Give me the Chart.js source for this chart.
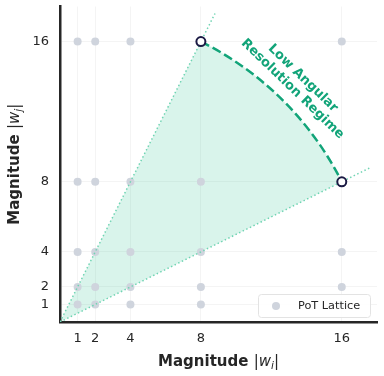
<!DOCTYPE html>
<html>
<head>
<meta charset="utf-8">
<script src="https://cdn.jsdelivr.net/npm/chart.js@4/dist/chart.umd.min.js"></script>
<style>
  html, body { margin: 0; padding: 0; background: #fff; }
  #wrap { width: 384px; height: 376px; }
</style>
</head>
<body>
<div id="wrap"><canvas id="lattice" width="384" height="376"></canvas></div>
<script>
// power-of-two magnitudes used on both axes
const potTicks = [1, 2, 4, 8, 16];
// highlighted lattice points (the regime boundary)
const cornerX = [8, 16];
const cornerY = [16, 8];
// dotted rays from origin, end points
const rayEndX = [8.8, 17.6];
const rayEndY = [17.6, 8.8];
const axisMax = 18;

const green = '#12a479';
const rayColor = '#70d4b3';
const fillColor = 'rgba(16,185,129,0.16)';
const dotColor = '#cfd4dd';
const FONT = 'DejaVu Sans';

Chart.defaults.font.family = FONT;

// lattice = all combos of the PoT magnitudes
const lattice = [];
potTicks.forEach(y => potTicks.forEach(x => lattice.push({ x, y })));

const corners = cornerX.map((x, i) => ({ x, y: cornerY[i] }));

// arc through the two corners, centred on the origin (elliptical in pixels since sx != sy)
function arcPath(chart, ctx) {
  const sx = chart.scales.x, sy = chart.scales.y;
  const ox = sx.getPixelForValue(0), oy = sy.getPixelForValue(0);
  const kx = sx.getPixelForValue(1) - ox, ky = oy - sy.getPixelForValue(1);
  const r = Math.hypot(cornerX[0], cornerY[0]);
  const t1 = Math.atan2(-cornerY[0], cornerX[0]);
  const t2 = Math.atan2(-cornerY[1], cornerX[1]);
  ctx.ellipse(ox, oy, r * kx, r * ky, 0, t1, t2, false);
}

function drawMixed(ctx, parts, x, y, rot) {
  ctx.save();
  ctx.translate(x, y);
  ctx.rotate(rot);
  let total = 0;
  parts.forEach(p => { ctx.font = p.f; p.w = ctx.measureText(p.t).width; total += p.w; });
  let cx = -total / 2;
  ctx.textBaseline = 'alphabetic';
  ctx.textAlign = 'left';
  ctx.fillStyle = '#262626';
  parts.forEach(p => {
    ctx.font = p.f;
    ctx.fillText(p.t, cx, p.dy || 0);
    cx += p.w;
  });
  ctx.restore();
}

function titleParts(sub) {
  return [
    { t: 'Magnitude ', f: `bold 15px "${FONT}"` },
    { t: '|', f: `15px "${FONT}"` },
    { t: 'w', f: `italic 15px "${FONT}"` },
    { t: sub, f: `italic 10.5px "${FONT}"`, dy: 3 },
    { t: '|', f: `15px "${FONT}"` }
  ];
}

const regimePlugin = {
  id: 'regime',
  beforeDatasetsDraw(chart) {
    const ctx = chart.ctx, sx = chart.scales.x, sy = chart.scales.y;
    const a = chart.chartArea;
    ctx.save();
    ctx.beginPath();
    ctx.rect(a.left, a.top, a.right - a.left, a.bottom - a.top);
    ctx.clip();
    // shaded wedge
    ctx.beginPath();
    ctx.moveTo(sx.getPixelForValue(0), sy.getPixelForValue(0));
    ctx.lineTo(sx.getPixelForValue(cornerX[0]), sy.getPixelForValue(cornerY[0]));
    arcPath(chart, ctx);
    ctx.closePath();
    ctx.fillStyle = fillColor;
    ctx.fill();
    // dashed arc
    ctx.beginPath();
    arcPath(chart, ctx);
    ctx.setLineDash([9.25, 4]);
    ctx.lineWidth = 2.5;
    ctx.strokeStyle = green;
    ctx.stroke();
    ctx.restore();
  },
  afterDatasetsDraw(chart) {
    const ctx = chart.ctx, sx = chart.scales.x, sy = chart.scales.y;
    const px = sx.getPixelForValue(13.5), py = sy.getPixelForValue(13.6);
    ctx.save();
    ctx.translate(px, py);
    ctx.rotate(44 * Math.PI / 180);
    ctx.font = `bold 13px "${FONT}"`;
    ctx.fillStyle = green;
    ctx.textAlign = 'center';
    ctx.textBaseline = 'middle';
    ctx.fillText('Low Angular', 0, -7.5);
    ctx.fillText('Resolution Regime', 0, 7.5);
    ctx.restore();
  },
  afterDraw(chart) {
    const ctx = chart.ctx, a = chart.chartArea;
    // axis titles
    drawMixed(ctx, titleParts('i'), (a.left + a.right) / 2, 366, 0);
    drawMixed(ctx, titleParts('j'), 19, (a.top + a.bottom) / 2, -Math.PI / 2);
    // legend box
    ctx.save();
    ctx.beginPath();
    ctx.roundRect(258.5, 294.5, 112, 23, 3);
    ctx.fillStyle = 'rgba(255,255,255,0.85)';
    ctx.fill();
    ctx.strokeStyle = '#e3e3e3';
    ctx.lineWidth = 1;
    ctx.stroke();
    ctx.beginPath();
    ctx.arc(276, 306, 4, 0, Math.PI * 2);
    ctx.fillStyle = dotColor;
    ctx.fill();
    ctx.font = `11.3px "${FONT}"`;
    ctx.fillStyle = '#262626';
    ctx.textBaseline = 'middle';
    ctx.fillText('PoT Lattice', 298, 306.5);
    ctx.restore();
  }
};

const fixedTicks = scale => { scale.ticks = potTicks.map(v => ({ value: v })); };
const noEdgePad = s => { s.paddingTop = 0; s.paddingBottom = 0; s.paddingLeft = 0; s.paddingRight = 0; };

new Chart(document.getElementById('lattice'), {
  type: 'scatter',
  data: {
    datasets: [
      {
        label: 'PoT Lattice',
        data: lattice,
        backgroundColor: dotColor,
        borderWidth: 0,
        pointRadius: 4,
        order: 4
      },
      {
        type: 'line',
        label: 'ray1',
        data: [{ x: 0, y: 0 }, { x: rayEndX[0], y: rayEndY[0] }],
        borderColor: rayColor,
        borderWidth: 1.5,
        borderDash: [1.5, 2.5],
        pointRadius: 0,
        fill: false,
        order: 3
      },
      {
        type: 'line',
        label: 'ray2',
        data: [{ x: 0, y: 0 }, { x: rayEndX[1], y: rayEndY[1] }],
        borderColor: rayColor,
        borderWidth: 1.5,
        borderDash: [1.5, 2.5],
        pointRadius: 0,
        fill: false,
        order: 3
      },
      {
        label: 'corners',
        data: corners,
        backgroundColor: '#ffffff',
        borderColor: '#1b1a44',
        borderWidth: 2,
        pointRadius: 4.5,
        order: 1
      }
    ]
  },
  options: {
    responsive: false,
    devicePixelRatio: 1,
    animation: false,
    layout: { padding: { top: 6, right: 7, left: 0, bottom: 0 } },
    plugins: {
      legend: { display: false },
      tooltip: { enabled: false }
    },
    scales: {
      x: {
        type: 'linear',
        min: 0,
        max: axisMax,
        afterBuildTicks: fixedTicks,
        afterFit: s => { s.height = 54; noEdgePad(s); },
        grid: { color: 'rgba(0,0,0,0.045)', drawTicks: false },
        border: { color: '#262626', width: 2.5 },
        ticks: { padding: 9, color: '#262626', font: { size: 13 } }
      },
      y: {
        type: 'linear',
        min: 0,
        max: axisMax,
        afterBuildTicks: fixedTicks,
        afterFit: s => { s.width = 60; noEdgePad(s); },
        grid: { color: 'rgba(0,0,0,0.045)', drawTicks: false },
        border: { color: '#262626', width: 2.5 },
        ticks: { padding: 11, color: '#262626', font: { size: 13 } }
      }
    }
  },
  plugins: [regimePlugin]
});
</script>
</body>
</html>
